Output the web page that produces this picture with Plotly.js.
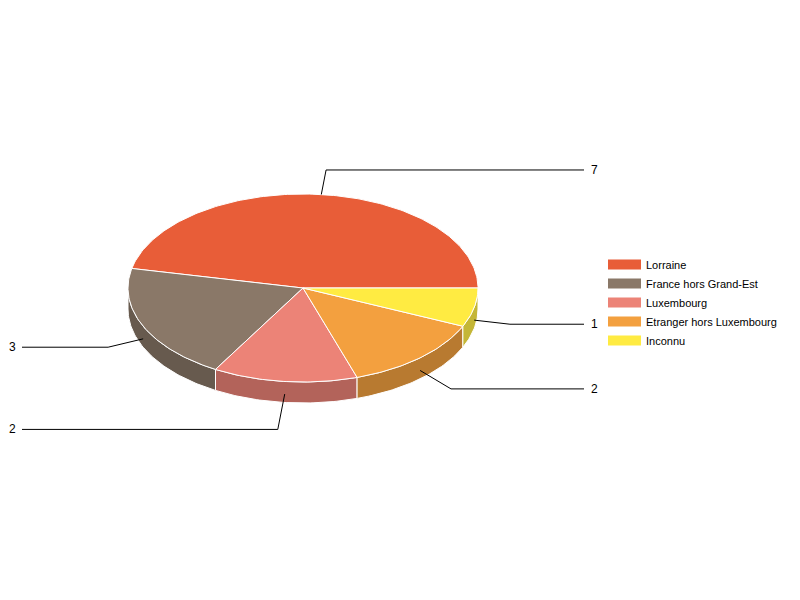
<!DOCTYPE html>
<html><head><meta charset="utf-8">
<script src="https://cdn.plot.ly/plotly-3.0.1.min.js"></script>
<style>html,body{margin:0;padding:0;background:#fff;}#chart{width:800px;height:600px;}</style>
</head><body><div id="chart"></div>
<script>
// ---- data ----
const categories = ["Lorraine", "France hors Grand-Est", "Luxembourg", "Etranger hors Luxembourg", "Inconnu"];
const values = [7, 3, 2, 2, 1];
const topColors = ["#E85D38", "#8A7868", "#EC8377", "#F3A03F", "#FFEB42"];
const sideColors = ["#A9432A", "#675A4E", "#B3635A", "#B87A30", "#C4B636"];

// ---- geometry (pixel space via axes) ----
const cx = 303, cy = 288, rx = 175, ry = 94, depth = 21;
const total = values.reduce((a, b) => a + b, 0);
function pt(t, r1, r2, dy) { return [cx + r1 * Math.cos(t), cy - r2 * Math.sin(t) + (dy || 0)]; }
function arc(t0, t1, dy) {
  const n = Math.max(2, Math.ceil(Math.abs(t1 - t0) / (Math.PI / 180)));
  const xs = [], ys = [];
  for (let i = 0; i <= n; i++) { const t = t0 + (t1 - t0) * i / n; const p = pt(t, rx, ry, dy); xs.push(p[0]); ys.push(p[1]); }
  return [xs, ys];
}

const sides = [], tops = [], leaders = [], legendTraces = [], annotations = [];
let acc = 0;
values.forEach((v, i) => {
  const a0 = acc / total * 2 * Math.PI;
  acc += v;
  const a1 = acc / total * 2 * Math.PI;
  // side wall (front half only)
  const s0 = Math.max(a0, Math.PI), s1 = Math.min(a1, 2 * Math.PI);
  if (s1 > s0) {
    const up = arc(s0, s1, 0), dn = arc(s1, s0, depth);
    sides.push({
      type: 'scatter', mode: 'lines', x: up[0].concat(dn[0], [up[0][0]]), y: up[1].concat(dn[1], [up[1][0]]),
      fill: 'toself', fillcolor: sideColors[i], line: { color: '#ffffff', width: 1 },
      hoverinfo: 'skip', showlegend: false
    });
  }
  // top slice
  const a = arc(a0, a1, 0);
  tops.push({
    type: 'scatter', mode: 'lines', x: [cx].concat(a[0], [cx]), y: [cy].concat(a[1], [cy]),
    fill: 'toself', fillcolor: topColors[i], line: { color: '#ffffff', width: 1 },
    hoverinfo: 'skip', showlegend: false
  });
  // leader line: anchor on rim (mid-side for front slices), radial elbow, horizontal run
  const m = (a0 + a1) / 2;
  const front = Math.sin(m) < 0;
  const off = front ? depth * 0.6 : 0;
  const p1 = pt(m, rx, ry, off);
  const dx = p1[0] - cx, dy = p1[1] - off - cy, dl = Math.hypot(dx, dy);
  const L = front ? 36 : 25;
  const p2 = [p1[0] + L * dx / dl, p1[1] + L * dy / dl];
  const right = Math.cos(m) >= 0;
  const xEnd = right ? 584 : 22;
  leaders.push({
    type: 'scatter', mode: 'lines', x: [p1[0], p2[0], xEnd], y: [p1[1], p2[1], p2[1]],
    line: { color: '#000000', width: 1 }, hoverinfo: 'skip', showlegend: false
  });
  annotations.push({
    x: right ? 594 : 12, y: p2[1], xref: 'x', yref: 'y', text: String(v), showarrow: false,
    xanchor: 'center', yanchor: 'middle', font: { family: 'Arial, Liberation Sans, sans-serif', size: 12, color: '#000' }
  });
  // legend entry
  legendTraces.push({
    type: 'scatter', mode: 'lines', x: [null], y: [null], name: categories[i],
    line: { color: topColors[i], width: 10 }, hoverinfo: 'skip', showlegend: true
  });
});

const layout = {
  width: 800, height: 600,
  margin: { l: 0, r: 0, t: 0, b: 0, pad: 0 },
  paper_bgcolor: '#ffffff', plot_bgcolor: '#ffffff',
  xaxis: { range: [0, 800], visible: false, fixedrange: true },
  yaxis: { range: [600, 0], visible: false, fixedrange: true },
  showlegend: true,
  legend: {
    x: 603 / 800, xanchor: 'left', y: 1 - 250 / 600, yanchor: 'top',
    itemwidth: 33, bgcolor: 'rgba(0,0,0,0)', borderwidth: 0,
    font: { family: 'Arial, Liberation Sans, sans-serif', size: 11, color: '#000' },
    traceorder: 'normal'
  },
  annotations: annotations,
  hovermode: false
};

Plotly.newPlot('chart', sides.concat(tops, leaders, legendTraces), layout, { staticPlot: true, displayModeBar: false });
</script>
</body></html>
